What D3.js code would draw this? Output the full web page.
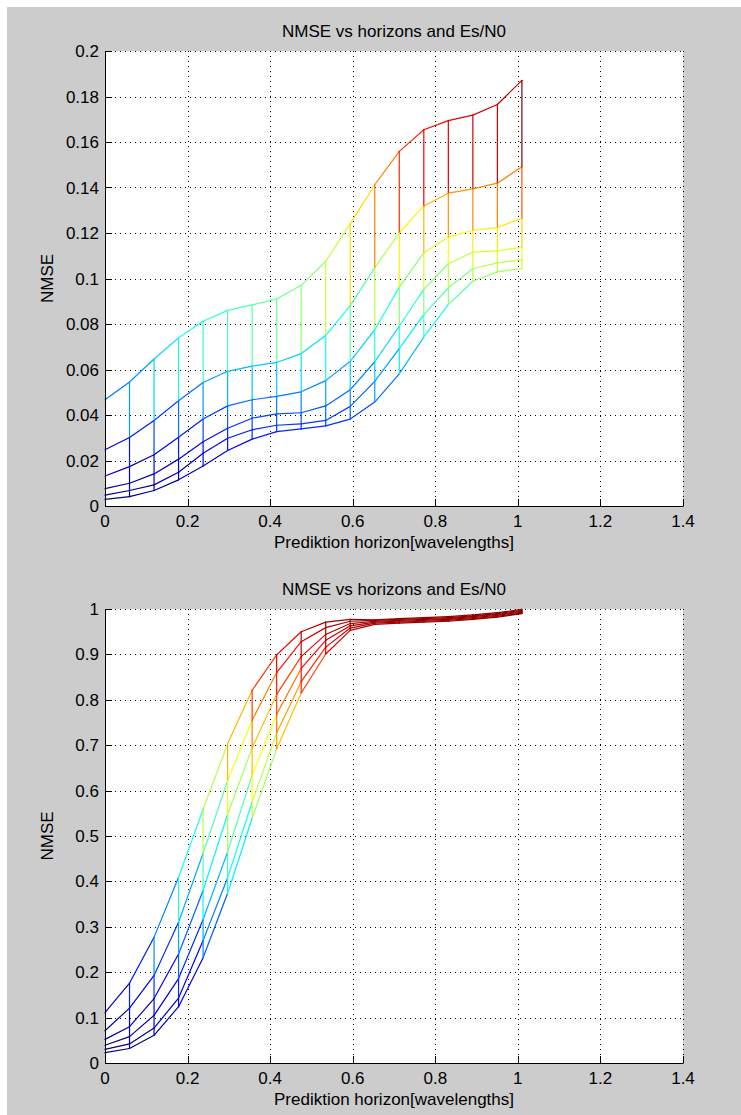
<!DOCTYPE html>
<html><head><meta charset="utf-8">
<script src="https://cdn.jsdelivr.net/npm/d3@7"></script>
<style>
body{margin:0;background:#fff}
svg{display:block}
text{font-family:"Liberation Sans",Arial,Helvetica,sans-serif;font-size:17px;fill:#000}
</style>
</head><body>
<svg id="chart" width="741" height="1115"></svg>
<script>
// ---- data ----
const horizons = [0, 0.0594, 0.1188, 0.1782, 0.2376, 0.2970, 0.3564, 0.4158, 0.4752,
                  0.5346, 0.5940, 0.6534, 0.7128, 0.7722, 0.8316, 0.8910, 0.9504, 1.0098];

const titleText = "NMSE vs horizons and Es/N0";
const xLabelText = "Prediktion horizon[wavelengths]";
const yLabelText = "NMSE";

const xTicks = [0, 0.2, 0.4, 0.6, 0.8, 1, 1.2, 1.4];
const xTickLabels = ["0", "0.2", "0.4", "0.6", "0.8", "1", "1.2", "1.4"];
const yTicksTop = [0, 0.02, 0.04, 0.06, 0.08, 0.1, 0.12, 0.14, 0.16, 0.18, 0.2];
const yTickLabelsTop = ["0", "0.02", "0.04", "0.06", "0.08", "0.1", "0.12", "0.14", "0.16", "0.18", "0.2"];
const yTicksBottom = [0, 0.1, 0.2, 0.3, 0.4, 0.5, 0.6, 0.7, 0.8, 0.9, 1];
const yTickLabelsBottom = ["0", "0.1", "0.2", "0.3", "0.4", "0.5", "0.6", "0.7", "0.8", "0.9", "1"];

// top panel: one array per Es/N0 level (lowest Es/N0 first)
const nmseTop1 = [0.0467,0.0545,0.0646,0.0739,0.0812,0.0860,0.0884,0.0910,0.0970,0.1076,0.1240,0.1412,0.1559,0.1654,0.1694,0.1718,0.1765,0.1871];
const nmseTop2 = [0.0247,0.0301,0.0376,0.0463,0.0543,0.0592,0.0615,0.0631,0.0670,0.0749,0.0881,0.1047,0.1201,0.1319,0.1375,0.1394,0.1419,0.1491];
const nmseTop3 = [0.0132,0.0173,0.0225,0.0302,0.0382,0.0440,0.0467,0.0482,0.0502,0.0551,0.0636,0.0775,0.0962,0.1113,0.1182,0.1212,0.1224,0.1265];
const nmseTop4 = [0.0076,0.0100,0.0141,0.0206,0.0282,0.0342,0.0386,0.0405,0.0410,0.0440,0.0511,0.0634,0.0790,0.0952,0.1065,0.1116,0.1121,0.1138];
const nmseTop5 = [0.0048,0.0068,0.0093,0.0148,0.0232,0.0298,0.0335,0.0355,0.0361,0.0376,0.0438,0.0548,0.0692,0.0841,0.0959,0.1043,0.1069,0.1081];
const nmseTop6 = [0.0029,0.0041,0.0068,0.0115,0.0176,0.0244,0.0294,0.0327,0.0339,0.0352,0.0382,0.0457,0.0581,0.0743,0.0885,0.0988,0.1029,0.1044];

// bottom panel
const nmseBottom1 = [0.111,0.176,0.277,0.409,0.559,0.703,0.821,0.899,0.950,0.971,0.977,0.976,0.979,0.981,0.983,0.987,0.992,0.999];
const nmseBottom2 = [0.071,0.121,0.193,0.310,0.462,0.622,0.755,0.860,0.928,0.959,0.973,0.975,0.977,0.979,0.981,0.985,0.990,0.997];
const nmseBottom3 = [0.052,0.080,0.142,0.240,0.380,0.548,0.694,0.812,0.895,0.944,0.968,0.973,0.975,0.977,0.979,0.983,0.988,0.995];
const nmseBottom4 = [0.039,0.058,0.105,0.186,0.316,0.465,0.634,0.768,0.869,0.931,0.963,0.971,0.973,0.975,0.977,0.981,0.986,0.993];
const nmseBottom5 = [0.030,0.042,0.077,0.143,0.270,0.408,0.575,0.727,0.840,0.916,0.958,0.969,0.971,0.973,0.975,0.979,0.984,0.991];
const nmseBottom6 = [0.023,0.032,0.061,0.124,0.232,0.374,0.539,0.692,0.815,0.901,0.953,0.966,0.969,0.971,0.973,0.977,0.982,0.990];

const topSeries = [nmseTop1, nmseTop2, nmseTop3, nmseTop4, nmseTop5, nmseTop6];
const bottomSeries = [nmseBottom1, nmseBottom2, nmseBottom3, nmseBottom4, nmseBottom5, nmseBottom6];

// ---- drawing ----
const svg = d3.select("#chart");
svg.append("rect").attr("x", 7).attr("y", 7).attr("width", 741 - 7).attr("height", 1115 - 7).attr("fill", "#cccccc");

function jet(t) {
  const c = v => Math.max(0, Math.min(1, v));
  const r = c(1.5 - Math.abs(4 * t - 3));
  const g = c(1.5 - Math.abs(4 * t - 2));
  const b = c(1.5 - Math.abs(4 * t - 1));
  return d3.rgb(r * 255, g * 255, b * 255).toString();
}

function drawPanel(series, yDomain, yTicks, yTickLabels, box) {
  const g = svg.append("g");
  const x = d3.scaleLinear().domain([0, 1.4]).range([box.left, box.right]);
  const y = d3.scaleLinear().domain(yDomain).range([box.bottom, box.top]);

  g.append("rect").attr("x", box.left).attr("y", box.top)
    .attr("width", box.right - box.left).attr("height", box.bottom - box.top).attr("fill", "#fff");

  // dotted grid
  const grid = g.append("g").attr("stroke", "#000").attr("stroke-width", 1).attr("stroke-dasharray", "1,4");
  xTicks.filter(v => v > 0).forEach(v => {
    grid.append("line").attr("x1", Math.round(x(v)) + 0.5).attr("x2", Math.round(x(v)) + 0.5)
      .attr("y1", box.top).attr("y2", box.bottom);
  });
  yTicks.filter(v => v > 0).forEach(v => {
    grid.append("line").attr("y1", Math.round(y(v)) + 0.5).attr("y2", Math.round(y(v)) + 0.5)
      .attr("x1", box.left).attr("x2", box.right);
  });

  // mesh
  const all = series.flat();
  const cmin = d3.min(all), cmax = d3.max(all);
  const norm = v => (v - cmin) / (cmax - cmin);
  const mesh = g.append("g").attr("stroke-width", 1.2).attr("fill", "none").attr("stroke-linecap", "round");
  series.forEach((s, i) => {
    for (let j = 0; j < s.length - 1; j++) {
      mesh.append("line")
        .attr("x1", x(horizons[j])).attr("y1", y(s[j]))
        .attr("x2", x(horizons[j + 1])).attr("y2", y(s[j + 1]))
        .attr("stroke", jet(norm(s[j])));
    }
  });
  for (let i = 0; i < series.length - 1; i++) {
    for (let j = 1; j < horizons.length; j++) {
      mesh.append("line")
        .attr("x1", x(horizons[j])).attr("y1", y(series[i][j]))
        .attr("x2", x(horizons[j])).attr("y2", y(series[i + 1][j]))
        .attr("stroke", jet(norm(series[i][j])));
    }
  }

  // axes (left + bottom, inward ticks)
  const ax = g.append("g").attr("stroke", "#000").attr("stroke-width", 1);
  ax.append("line").attr("x1", box.left + 0.5).attr("x2", box.left + 0.5).attr("y1", box.top).attr("y2", box.bottom + 0.5);
  ax.append("line").attr("x1", box.left).attr("x2", box.right + 0.5).attr("y1", box.bottom + 0.5).attr("y2", box.bottom + 0.5);
  const tl = 7;
  xTicks.forEach(v => {
    const px = Math.round(x(v)) + 0.5;
    ax.append("line").attr("x1", px).attr("x2", px).attr("y1", box.bottom).attr("y2", box.bottom - tl);
  });
  yTicks.forEach(v => {
    const py = Math.round(y(v)) + 0.5;
    ax.append("line").attr("x1", box.left).attr("x2", box.left + tl).attr("y1", py).attr("y2", py);
  });

  // labels
  xTicks.forEach((v, k) => {
    g.append("text").attr("x", x(v)).attr("y", box.bottom + 21).attr("text-anchor", "middle").text(xTickLabels[k]);
  });
  yTicks.forEach((v, k) => {
    g.append("text").attr("x", box.left - 6).attr("y", y(v) + 6).attr("text-anchor", "end").text(yTickLabels[k]);
  });
  const cx = (box.left + box.right) / 2;
  g.append("text").attr("x", cx).attr("y", box.top - 14).attr("text-anchor", "middle").text(titleText);
  g.append("text").attr("x", cx).attr("y", box.bottom + 42).attr("text-anchor", "middle").text(xLabelText);
  g.append("text").attr("transform", `translate(53,${(box.top + box.bottom) / 2}) rotate(-90)`)
    .attr("text-anchor", "middle").text(yLabelText);
}

drawPanel(topSeries, [0, 0.2], yTicksTop, yTickLabelsTop, {left: 105, right: 683, top: 51, bottom: 506});
drawPanel(bottomSeries, [0, 1], yTicksBottom, yTickLabelsBottom, {left: 105, right: 683, top: 609, bottom: 1063});
</script>
</body></html>
